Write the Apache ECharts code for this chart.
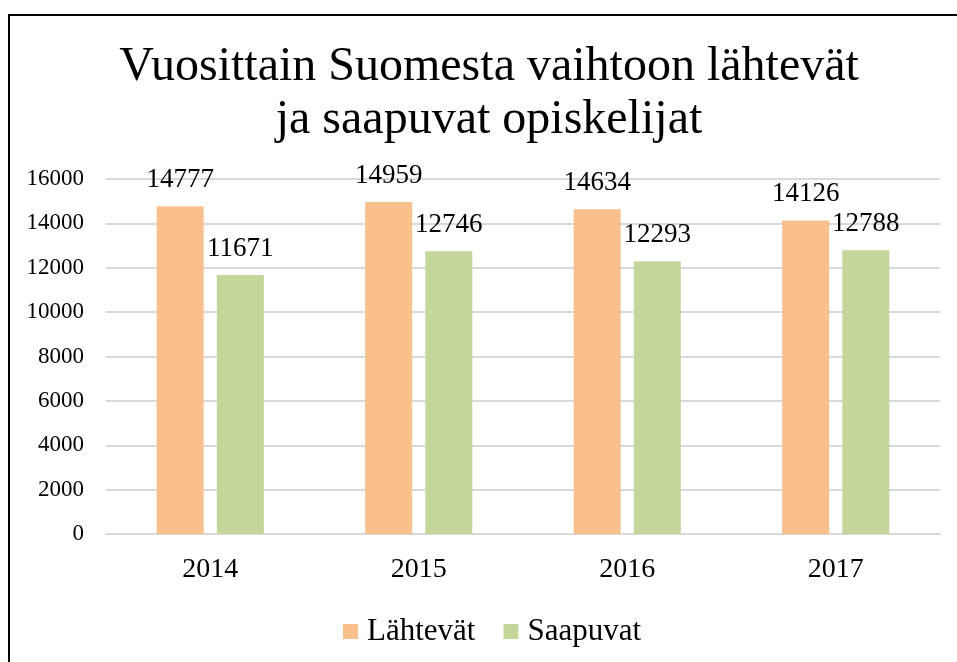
<!DOCTYPE html>
<html>
<head>
<meta charset="utf-8">
<script src="https://cdn.jsdelivr.net/npm/echarts@6/dist/echarts.min.js"></script>
<style>
  html, body { margin: 0; padding: 0; background: #fff; }
  #chart { width: 957px; height: 662px; }
</style>
</head>
<body>
<div id="chart"></div>
<script>
const years = ["2014", "2015", "2016", "2017"];
const lahtevat = [14777, 14959, 14634, 14126];
const saapuvat = [11671, 12746, 12293, 12788];
const yTicks = [0, 2000, 4000, 6000, 8000, 10000, 12000, 14000, 16000];

const serif = "'Liberation Serif', 'Times New Roman', serif";

const chart = echarts.init(document.getElementById("chart"));
const option = {
  animation: false,
  backgroundColor: "#fff",
  textStyle: { fontFamily: serif, color: "#000" },
  graphic: [
    {
      type: "rect",
      shape: { x: 9, y: 15, width: 2000, height: 2000 },
      style: { fill: "none", stroke: "#000", lineWidth: 2 },
      silent: true,
    },
  ],
  title: {
    text: "Vuosittain Suomesta vaihtoon lähtevät\nja saapuvat opiskelijat",
    left: 484,
    top: 36,
    textAlign: "center",
    textStyle: {
      fontFamily: serif,
      fontSize: 48,
      fontWeight: "normal",
      lineHeight: 53,
      color: "#000",
    },
  },
  legend: {
    left: 338,
    top: 611,
    icon: "rect",
    itemWidth: 15,
    itemHeight: 15,
    itemGap: 28,
    textStyle: { fontFamily: serif, fontSize: 31, color: "#000", padding: [0, 0, 0, 4] },
    data: ["Lähtevät", "Saapuvat"],
  },
  grid: { left: 106, right: 17, top: 179, bottom: 128, containLabel: false },
  xAxis: {
    type: "category",
    data: years,
    axisTick: { show: false },
    axisLine: { lineStyle: { color: "#d9d9d9", width: 2 } },
    axisLabel: { fontFamily: serif, fontSize: 28, color: "#000", margin: 22 },
  },
  yAxis: {
    type: "value",
    min: yTicks[0],
    max: yTicks[yTicks.length - 1],
    interval: 2000,
    axisLine: { show: false },
    axisTick: { show: false },
    splitLine: { lineStyle: { color: "#d9d9d9", width: 2 } },
    axisLabel: {
      fontFamily: serif,
      fontSize: 23,
      color: "#000",
      margin: 22,
      formatter: (v) => String(v),
    },
  },
  series: [
    {
      name: "Lähtevät",
      type: "bar",
      data: lahtevat,
      barWidth: 47,
      barGap: "28%",
      itemStyle: { color: "#F8C08D" },
      label: {
        show: true,
        position: "top",
        distance: 13,
        fontFamily: serif,
        fontSize: 27,
        color: "#000",
      },
    },
    {
      name: "Saapuvat",
      type: "bar",
      data: saapuvat,
      barWidth: 47,
      itemStyle: { color: "#C5D69B" },
      label: {
        show: true,
        position: "top",
        distance: 13,
        fontFamily: serif,
        fontSize: 27,
        color: "#000",
      },
    },
  ],
};
chart.setOption(option);
</script>
</body>
</html>
